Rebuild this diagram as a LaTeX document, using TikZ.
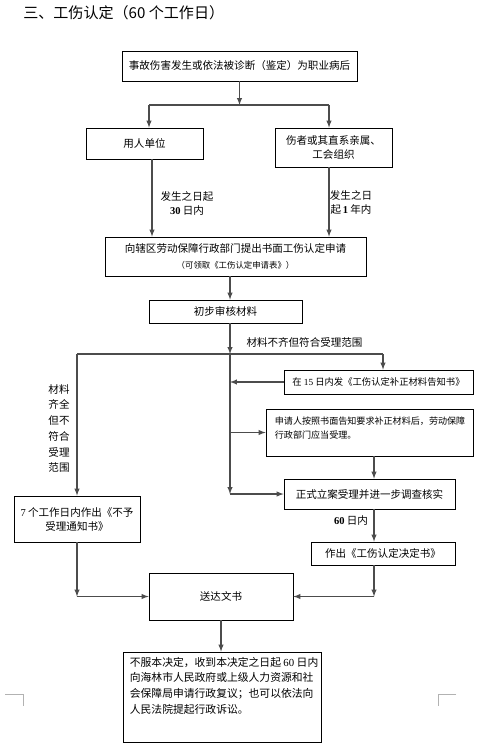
\documentclass[tikz,border=0pt]{standalone}
\usepackage{fontspec}
\setmainfont{Liberation Serif}
\newfontfamily\cjk{Noto Sans CJK SC}
\usetikzlibrary{calc}
\newcommand\dg[1]{{\rmfamily #1}}
\newcommand\bdg[1]{{\rmfamily\bfseries #1}}
\tikzset{
    box/.style={draw,line width=0.6pt,inner sep=0pt,align=center},
    sz/.style 2 args={minimum width=#1*0.75pt,minimum height=#2*0.75pt},
    txt/.style={font=\cjk\fontsize{7.9}{10.5}\selectfont,align=center},
    arr/.style={-latex,black!70,line width=0.8pt},
    ln/.style={black!70,line width=0.8pt}}
\begin{document}
\begin{tikzpicture}[x=0.75pt,y=-0.75pt]
    \useasboundingbox[fill=white] (0,0) rectangle (479,748);
    \node[font=\cjk\fontsize{11.3}{13}\selectfont,anchor=west,inner sep=0pt] (title) at (23,13) {三、工伤认定（60 个工作日）};
    % boxes
    \node[box,txt,sz={235}{30}] (acc) at (239.5,66) {事故伤害发生或依法被诊断（鉴定）为职业病后};
    \node[box,txt,sz={117}{31}] (emp) at (144.5,143.5) {用人单位};
    \node[box,txt,sz={117}{39}] (fam) at (333.5,147.5) {伤者或其直系亲属、\\工会组织};
    \node[box,txt,sz={261}{39}] (apply) at (235.5,256.5) {向辖区劳动保障行政部门提出书面工伤认定申请\\[1pt]{\fontsize{6.3}{7}\selectfont （可领取《工伤认定申请表》）}};
    \node[box,txt,sz={153}{23}] (chk) at (225.5,311.5) {初步审核材料};
    \node[box,txt,sz={189}{24},font=\cjk\fontsize{7}{9}\selectfont] (ntc) at (378.5,382) {在 \dg{15} 日内发《工伤认定补正材料告知书》};
    \node[box,sz={207}{47}] (resub) at (369.5,432.5) {};
    \node[txt,font=\cjk\fontsize{6.8}{10.5}\selectfont,align=left,anchor=north west,inner sep=0pt] (resubtxt) at ($(resub.north west)+(9,8)$) {申请人按照书面告知要求补正材料后，劳动保障\\行政部门应当受理。};
    \node[box,txt,sz={171}{30}] (formal) at (369.5,494) {正式立案受理并进一步调查核实};
    \node[box,txt,sz={126}{46}] (rej) at (77,519) {\dg{7} 个工作日内作出《不予\\受理通知书》};
    \node[box,txt,sz={144}{23}] (dec) at (383,553.5) {作出《工伤认定决定书》};
    \node[box,txt,sz={144}{47}] (deliver) at (221,596.5) {送达文书};
    \node[box,sz={198}{90}] (fin) at (222,697) {};
    \node[txt,font=\cjk\fontsize{8.1}{11.8}\selectfont,align=left,anchor=north west,inner sep=0pt] (fintxt) at ($(fin.north west)+(7,5)$) {不服本决定，收到本决定之日起 \dg{60} 日内\\向海林市人民政府或上级人力资源和社\\会保障局申请行政复议；也可以依法向\\人民法院提起行政诉讼。};
    % labels
    \node[txt] (lblemp) at (187,203) {发生之日起\\\bdg{30} 日内};
    \node[txt] (lblfam) at (351,203) {发生之日\\起\,\bdg{1} 年内};
    \node[txt] (lblpart) at (304.5,342) {材料不齐但符合受理范围};
    \node[txt,font=\cjk\fontsize{7.9}{11.8}\selectfont] (lblrej) at (59,428.5) {材料\\齐全\\但不\\符合\\受理\\范围};
    \node[txt] (lbl60) at (351,521) {\bdg{60} 日内};
    % connectors
    \coordinate (jt) at (239.5,105);
    \coordinate (jtl) at (149,105);
    \coordinate (jtr) at (329,105);
    \coordinate (cE) at (152,0);
    \coordinate (cT) at (230,0);
    \coordinate (cR) at (374,0);
    \coordinate (jm) at (230,354);
    \coordinate (jml) at (77,354);
    \coordinate (jmr) at (383,354);
    \draw[arr] (acc.south) -- (jt);
    \draw[ln] (jtl) -- (jtr);
    \draw[arr] (jtl) -- (jtl |- emp.north);
    \draw[arr] (jtr) -- (jtr |- fam.north);
    \draw[arr] (emp.south -| cE) -- (apply.north -| cE);
    \draw[arr] (fam.south -| jtr) -- (apply.north -| jtr);
    \draw[arr] (apply.south -| cT) -- (chk.north -| cT);
    \draw[arr] (chk.south -| cT) -- (jm);
    \draw[ln] (jml) -- (jmr);
    \draw[arr] (jmr) -- (jmr |- ntc.north);
    \draw[arr] (ntc.west) -- (ntc.west -| cT);
    \draw[arr] (resub.west -| cT) -- (resub.west);
    \coordinate (jf) at (formal.west -| cT);
    \draw[arr] (jm) -- (jf);
    \draw[arr] (jf) -- (formal.west);
    \draw[arr] (resub.south -| cR) -- (formal.north -| cR);
    \draw[arr] (formal.south -| cR) -- (dec.north -| cR);
    \draw[arr] (jml) -- (jml |- rej.north);
    \coordinate (jbl) at (deliver.west -| jml);
    \coordinate (jbr) at (deliver.east -| cR);
    \draw[arr] (rej.south) -- (jbl);
    \draw[arr] (jbl) -- (deliver.west);
    \draw[arr] (dec.south -| cR) -- (jbr);
    \draw[arr] (jbr) -- (deliver.east);
    \draw[arr] (deliver.south) -- (deliver.south |- fin.north);
    % corner marks
    \draw[gray!60,line width=0.6pt] (5,694) -- (23,694) -- (23,706);
    \draw[gray!60,line width=0.6pt] (456,694) -- (438,694) -- (438,706);
\end{tikzpicture}
\end{document}
